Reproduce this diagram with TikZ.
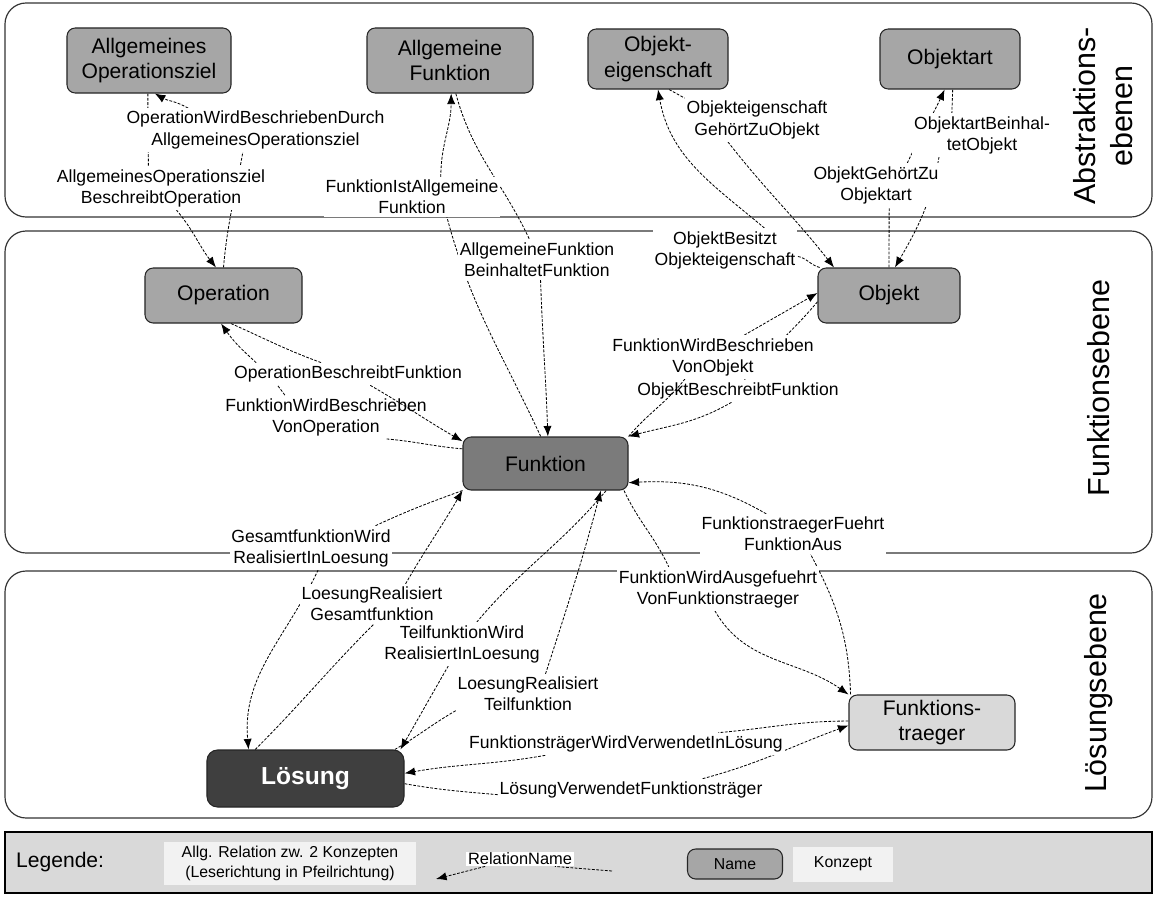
\documentclass[tikz,border=0pt]{standalone}
\usepackage{fontspec}
\setmainfont{Liberation Sans}
\usetikzlibrary{arrows.meta}

\definecolor{abstrgrau}{HTML}{A6A6A6}
\definecolor{funkgrau}{HTML}{7B7B7B}
\definecolor{loesgrau}{HTML}{3F3F3F}
\definecolor{traeggrau}{HTML}{D9D9D9}
\definecolor{leggrau}{HTML}{D9D9D9}
\definecolor{boxgrau}{HTML}{F2F2F2}

\pgfdeclarelayer{panels}
\pgfdeclarelayer{edges}
\pgfsetlayers{panels,edges,main}

\tikzset{
  konzept/.style={draw=black!85, line width=0.9pt, rounded corners=7pt, align=center, inner sep=0pt, font=\fontsize{18}{22}\selectfont},
  relname/.style={fill=white, inner xsep=1.5pt, inner ysep=2.5pt, align=center, font=\fontsize{15}{18}\selectfont},
  relarrow/.style={draw=black, line width=0.7pt, dash pattern=on 2.4pt off 1.3pt, -{Latex[length=9pt,width=7pt]}},
  ebene/.style={draw=black!80, line width=1pt, rounded corners=18pt},
  ebenename/.style={rotate=90, align=center, font=\fontsize{26}{31}\selectfont},
  legbox/.style={fill=boxgrau, align=center, inner sep=0pt, font=\fontsize{13.5}{17}\selectfont}
}

\begin{document}
\begin{tikzpicture}[x=0.03cm, y=-0.03cm]
\useasboundingbox (0,0) rectangle (1155,898);

%Draw Ebenen
\begin{pgfonlayer}{panels}
\foreach \yo/\yu in {3/217, 231/553, 571/818} {
\draw[ebene] (5,\yo) rectangle (1152,\yu);
}
\draw[draw=black, line width=1.2pt, fill=leggrau] (5,832) rectangle (1152,893);
\end{pgfonlayer}

\node[ebenename] (abstr) at (1103,116) {Abstraktions-\\ebenen};
\node[ebenename] (funkeb) at (1099,388) {Funktionsebene};
\node[ebenename] (loeseb) at (1099,693) {Lösungsebene};

%Draw Konzepte
\node[konzept, fill=abstrgrau, minimum width=4.92cm, minimum height=1.95cm] (aoz) at (149,60.5) {Allgemeines\\Operationsziel};
\node[konzept, fill=abstrgrau, minimum width=4.98cm, minimum height=1.95cm] (af) at (450,60.5) {Allgemeine\\Funktion};
\node[konzept, fill=abstrgrau, minimum width=4.2cm, minimum height=1.8cm] (oe) at (658,59) {Objekt-\\eigenschaft};
\node[konzept, fill=abstrgrau, minimum width=4.2cm, minimum height=1.8cm] (oa) at (950,59) {Objektart};
\node[konzept, fill=abstrgrau, minimum width=4.71cm, minimum height=1.65cm] (op) at (223.5,295.5) {Operation};
\node[konzept, fill=abstrgrau, minimum width=4.26cm, minimum height=1.65cm] (obj) at (889,295.5) {Objekt};
\node[konzept, fill=funkgrau, minimum width=4.95cm, minimum height=1.59cm] (funk) at (545.5,463.5) {Funktion};
\node[konzept, fill=loesgrau, text=white, rounded corners=9pt, minimum width=5.91cm, minimum height=1.71cm, font=\bfseries\fontsize{21}{25}\selectfont] (loes) at (305.5,778.5) {Lösung};
\node[konzept, fill=traeggrau, minimum width=4.98cm, minimum height=1.65cm] (traeg) at (932,722.5) {Funktions-\\traeger};

%Draw Relationsnamen
\node[relname] (l1) at (255.5,130) {OperationWirdBeschriebenDurch\\AllgemeinesOperationsziel};
\node[relname] (l2) at (161,188) {AllgemeinesOperationsziel\\BeschreibtOperation};
\node[relname] (l3) at (412,197) {FunktionIstAllgemeine\\Funktion};
\node[relname] (l4) at (537,260) {AllgemeineFunktion\\BeinhaltetFunktion};
\node[relname] (l5) at (757,120) {Objekteigenschaft\\GehörtZuObjekt};
\node[relname] (l6) at (982,135) {ObjektartBeinhal-\\tetObjekt};
\node[relname] (l7) at (876,185) {ObjektGehörtZu\\Objektart};
\node[relname] (l8) at (725,250) {ObjektBesitzt\\Objekteigenschaft};
\node[relname] (l9) at (348,374) {OperationBeschreibtFunktion};
\node[relname, fill=none] (l10) at (326,417) {FunktionWirdBeschrieben\\VonOperation};
\node[relname] (l11) at (713,357) {FunktionWirdBeschrieben\\VonObjekt};
\node[relname, fill=none] (l12) at (738,391) {ObjektBeschreibtFunktion};
\node[relname] (l13) at (311,548) {GesamtfunktionWird\\RealisiertInLoesung};
\node[relname] (l14) at (793,534) {FunktionstraegerFuehrt\\FunktionAus};
\node[relname] (l15) at (718,589) {FunktionWirdAusgefuehrt\\VonFunktionstraeger};
\node[relname] (l16) at (372,604) {LoesungRealisiert\\Gesamtfunktion};
\node[relname] (l17) at (462,644) {TeilfunktionWird\\RealisiertInLoesung};
\node[relname] (l18) at (528,694) {LoesungRealisiert\\Teilfunktion};
\node[relname] (l19) at (626,744) {FunktionsträgerWirdVerwendetInLösung};
\node[relname] (l20) at (631,790) {LösungVerwendetFunktionsträger};

%Draw Relationen
\begin{pgfonlayer}{edges}
\draw[relarrow] (op.north) to[out=85,in=-100] (l1.-120) (l1.162) to[out=150,in=-30] (aoz.-80);
\draw[relarrow] (aoz.-92) to[out=-90,in=90] (l2.120) (l2.-55) to[out=-50,in=128] (op.105);
\draw[relarrow] (funk.100) to[out=115,in=-75] (l3.-30) (l3.35) to[out=90,in=-90] (af.-88);
\draw[relarrow] (af.-80) to[out=-75,in=115] (l4.110) (l4.-80) to[out=-88,in=92] (funk.85);
\draw[relarrow] (oe.-70) -- (l5.north west) (l5.-143) to[out=-52,in=128] (obj.153);
\draw[relarrow] (obj.158) to[out=165,in=-10] (l8.-5) (l8.29) to[out=140,in=-80] (oe.south);
\draw[relarrow] (oa.-85) -- (l6.144) (l6.-153) to[out=-100,in=60] (obj.78);
\draw[relarrow] (obj.north) -- (l7.-59) (l7.35) to[out=65,in=-115] (oa.-100);

\draw[relarrow] (op.-75) to[out=-24,in=160] (l9.157) (l9.-27) to[out=-30,in=150] (funk.165);
\draw[relarrow] (funk.170) to[out=175,in=-5] (l10.-20) (l10.152) to[out=125,in=-55] (op.-95);
\draw[relarrow] (obj.185) to[out=-130,in=50] (l12.60) (l12.-120) to[out=-150,in=15] (funk.north east);
\draw[relarrow] (funk.north east) to[out=50,in=-128] (l11.-142) (l11.35) to[out=30,in=-150] (obj.178);
\draw[relarrow] (traeg.161) to[out=92,in=-62] (l14.-49) (l14.143) to[out=150,in=3] (funk.-13);
\draw[relarrow] (funk.-19) to[out=-65,in=115] (l15.156) (l15.-98) to[out=-60,in=145] (traeg.north west);

\draw[relarrow] (funk.south west) to[out=200,in=25] (l13.19) (l13.-72) to[out=-115,in=95] (loes.153);
\draw[relarrow] (loes.150) to[out=45,in=-135] (l16.-85) (l16.31) to[out=60,in=-120] (funk.south west);
\draw[relarrow] (funk.-24) to[out=-130,in=50] (l17.56) (l17.-122) to[out=-120,in=60] (loes.17);
\draw[relarrow] (loes.18) to[out=30,in=-150] (l18.-167) (l18.49) to[out=72,in=-105] (funk.-26);
\draw[relarrow] (traeg.179) to[out=180,in=5] (l19.7) (l19.-172) to[out=-170,in=10] (loes.3);
\draw[relarrow] (loes.-3) to[out=-10,in=175] (l20.-178) (l20.9) to[out=15,in=-160] (traeg.182);
\end{pgfonlayer}

%Draw legend
\node[anchor=west, font=\fontsize{18}{22}\selectfont] (leg) at (12,862) {Legende:};
\node[legbox, minimum width=7.56cm, minimum height=1.29cm] (legrel) at (290,863) {Allg. Relation zw. 2 Konzepten\\(Leserichtung in Pfeilrichtung)};
\node[relname, inner ysep=1pt, font=\fontsize{14}{17}\selectfont] (legrn) at (520,859) {RelationName};
\node[konzept, fill=abstrgrau, minimum width=2.85cm, minimum height=0.9cm, font=\fontsize{13.5}{16}\selectfont] (legname) at (735,864) {Name};
\node[legbox, minimum width=3cm, minimum height=1.05cm] (legkonz) at (843,864) {Konzept};
\coordinate (legvon) at (612,871);
\coordinate (legnach) at (436,879);
\draw[relarrow] (legvon) -- (legrn.-12) (legrn.-168) -- (legnach);

\end{tikzpicture}
\end{document}
